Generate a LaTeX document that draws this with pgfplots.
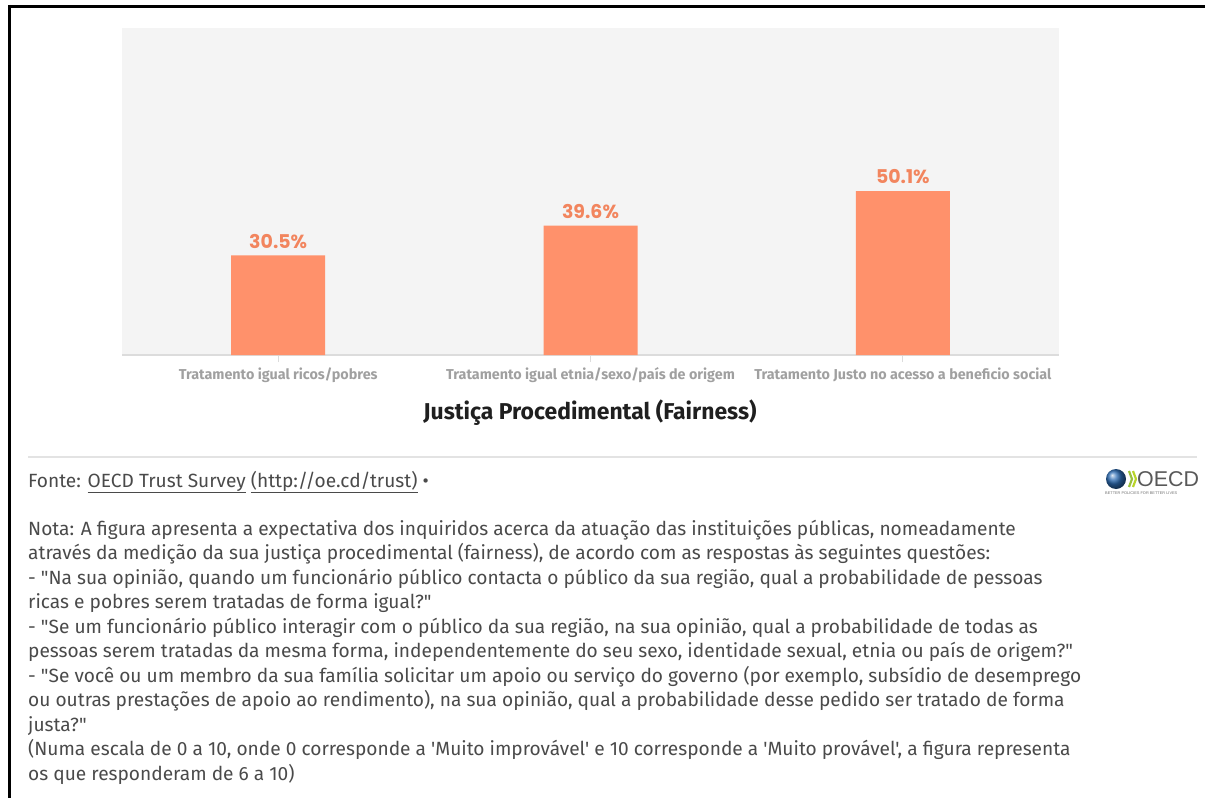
\documentclass[border=0pt]{standalone}
\usepackage{pgfplots}
\pgfplotsset{compat=1.18}
\usepackage{fontspec}
\setmainfont{Fira Sans}[Ligatures=TeXOff]
\newfontfamily\poppins{Poppins}
\newfontfamily\logofont{Liberation Sans}
\definecolor{barc}{HTML}{FF916B}
\definecolor{labc}{HTML}{F2855E}
\definecolor{plotbg}{HTML}{F4F4F4}
\definecolor{basec}{HTML}{DCDCDC}
\definecolor{tickc}{HTML}{A0A0A0}
\definecolor{bodyc}{HTML}{4A4A4A}
\definecolor{sepc}{HTML}{E3E3E3}
\definecolor{oecdblue}{HTML}{2D6DB5}
\definecolor{oecdgreen}{HTML}{9BC23C}
\begin{document}
\begin{tikzpicture}[x=1bp,y=1bp]
\useasboundingbox (0,0) rectangle (1205,-798);
% frame
\draw[line width=3bp,black] (8,-6.5) -- (1205,-6.5);
\draw[line width=3bp,black] (9.5,-5) -- (9.5,-798);
\begin{axis}[
  at={(122bp,-28bp)}, anchor=north west,
  width=937bp, height=327bp, scale only axis,
  xmin=-0.5, xmax=2.5, ymin=0, ymax=100,
  axis background/.style={fill=plotbg},
  axis x line*=bottom, axis y line=none,
  axis line style={draw=basec, line width=1.5bp, -},
  xtick={0,1,2},
  xticklabels={Tratamento igual ricos/pobres, Tratamento igual etnia/sexo/país de origem, Tratamento Justo no acesso a beneficio social},
  tick align=outside, major tick length=7bp,
  xtick style={draw=basec, line width=1bp},
  ytick=\empty,
  xticklabel style={font=\fontsize{14.4}{16}\selectfont\bfseries, text=tickc, yshift=-2bp},
  ybar, bar width=94bp,
  /pgf/number format/assume math mode=true,
  nodes near coords={\pgfmathprintnumber[fixed,precision=1,fixed zerofill]{\pgfplotspointmeta}\%},
  every node near coord/.append style={font=\fontsize{19}{20}\selectfont\poppins\bfseries, text=labc, yshift=3.5bp},
  clip=false,
]
\addplot[fill=barc, draw=none] coordinates {(0,30.5) (1,39.6) (2,50.1)};
\end{axis}
\node[font=\fontsize{23}{26}\selectfont\bfseries, text=black!88] at (590,-413) {Justiça Procedimental (Fairness)};
\draw[sepc, line width=1.5bp] (28,-457) -- (1197,-457);
\begin{scope}[every node/.style={anchor=base west, inner sep=0pt, font=\fontsize{19.2}{24}\selectfont, text=bodyc}]
\node at (28,-487) {Fonte: \underline{OECD Trust Survey} \underline{(http://oe.cd/trust)} •};
\node at (28,-535) {Nota: A figura apresenta a expectativa dos inquiridos acerca da atuação das instituições públicas, nomeadamente};
\node at (28,-559) {através da medição da sua justiça procedimental (fairness), de acordo com as respostas às seguintes questões:};
\node at (28,-584) {- "Na sua opinião, quando um funcionário público contacta o público da sua região, qual a probabilidade de pessoas};
\node at (28,-608) {ricas e pobres serem tratadas de forma igual?"};
\node at (28,-633) {- "Se um funcionário público interagir com o público da sua região, na sua opinião, qual a probabilidade de todas as};
\node at (28,-657) {pessoas serem tratadas da mesma forma, independentemente do seu sexo, identidade sexual, etnia ou país de origem?"};
\node at (28,-682) {- "Se você ou um membro da sua família solicitar um apoio ou serviço do governo (por exemplo, subsídio de desemprego};
\node at (28,-706) {ou outras prestações de apoio ao rendimento), na sua opinião, qual a probabilidade desse pedido ser tratado de forma};
\node at (28,-731) {justa?"};
\node at (28,-755) {(Numa escala de 0 a 10, onde 0 corresponde a 'Muito improvável' e 10 corresponde a 'Muito provável', a figura representa};
\node at (28,-780) {os que responderam de 6 a 10)};
\end{scope}
% OECD logo
\shade[ball color=oecdblue] (1116,-479) circle (10);
\draw[oecdgreen, line width=2.2bp] (1129,-471) -- (1132,-479) -- (1129,-487);
\draw[oecdgreen!70!yellow, line width=2.2bp] (1133,-471) -- (1136,-479) -- (1133,-487);
\node[anchor=west, inner sep=0pt, font=\logofont\fontsize{21.5}{22}\selectfont, text=black!65] at (1137,-479.5) {OECD};
\node[anchor=west, inner sep=0pt, font=\logofont\fontsize{3.9}{4}\selectfont, text=black!55] at (1105,-493) {BETTER POLICIES FOR BETTER LIVES};
\end{tikzpicture}
\end{document}
